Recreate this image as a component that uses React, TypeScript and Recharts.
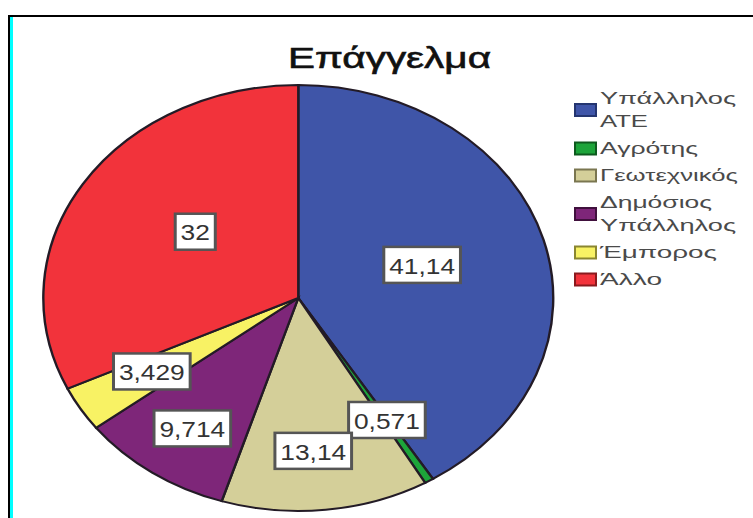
import { Cell, Legend, Pie, PieChart } from "recharts";

// Επάγγελμα (%)
const occupations = ["Υπάλληλος ΑΤΕ", "Αγρότης", "Γεωτεχνικός", "Δημόσιος Υπάλληλος", "Έμπορος", "Άλλο"];
const percents = [41.14, 0.571, 13.14, 9.714, 3.429, 32];
const valueLabels = ["41,14", "0,571", "13,14", "9,714", "3,429", "32"];
const sliceColors = ["#3F55A8", "#1DA43A", "#D4CF99", "#7E2679", "#F8F264", "#F2333B"];
const swatchEdges = ["#243570", "#0E5A1E", "#7A7650", "#40103D", "#8A8630", "#8A1A1E"];

const pieData = occupations.map((name, i) => ({ name, value: percents[i] }));

// the source picture is stretched sideways, so the pie is too
const STRETCH = 1.197;
const CHART_LEFT = 11;
const CX = 240;
const CY = 298;
const R = 213;

// where the value boxes sit (fraction of radius, small turn in degrees)
const labelRadius = [0.51, 0.67, 0.72, 0.74, 0.67, 0.51];
const labelTurn = [1.8, 0.4, -1.5, 0.8, -0.4, -5.2];

// legend words are drawn wide as in the source
const wordWidths: Record<string, number> = {
  "Υπάλληλος": 136,
  "ΑΤΕ": 48,
  "Αγρότης": 98,
  "Γεωτεχνικός": 138,
  "Δημόσιος": 112,
  "Έμπορος": 117,
  "Άλλο": 62,
};

const FONT = "'Liberation Sans', Arial, sans-serif";

const textWidth = (s: string, fs: number) =>
  s.split("").reduce((w, ch) => w + (ch === "," ? 0.278 : 0.556) * fs, 0);

const renderLabel = (props: any) => {
  const { cx, cy, midAngle, outerRadius, index } = props;
  const a = ((midAngle + labelTurn[index]) * Math.PI) / 180;
  const r = outerRadius * labelRadius[index];
  const x = cx + r * Math.cos(a);
  const y = cy - r * Math.sin(a);
  const text = valueLabels[index];
  const w = textWidth(text, 22) + 9;
  return (
    <g key={`lbl-${index}`}>
      <rect x={x - w / 2} y={y - 18} width={w} height={36} fill="#fff" stroke="#555" strokeWidth={2.5} />
      <text
        x={x}
        y={y + 1}
        textAnchor="middle"
        dominantBaseline="central"
        fontSize={22}
        fontFamily={FONT}
        fill="#333"
      >
        {text}
      </text>
    </g>
  );
};

const renderLegend = () => {
  let top = 2;
  return (
    <svg width={185} height={230}>
      {pieData.map((entry, i) => {
        const words = entry.name.split(" ");
        const itemTop = top;
        top += words.length * 23 + 4;
        const mid = itemTop + (words.length * 23) / 2 + 1;
        return (
          <g key={entry.name}>
            <rect
              x={5}
              y={mid - 6}
              width={21}
              height={12}
              fill={sliceColors[i]}
              stroke={swatchEdges[i]}
              strokeWidth={2}
            />
            {words.map((wd, k) => (
              <text
                key={k}
                x={30}
                y={itemTop + 12 + k * 23}
                dominantBaseline="central"
                fontSize={17}
                fontFamily={FONT}
                fill="#4a4a4a"
                textLength={wordWidths[wd]}
                lengthAdjust="spacingAndGlyphs"
              >
                {wd}
              </text>
            ))}
          </g>
        );
      })}
    </svg>
  );
};

export default function App() {
  return (
    <div
      style={{
        position: "absolute",
        left: 0,
        top: 0,
        width: 753,
        height: 518,
        background: "#fff",
        overflow: "hidden",
      }}
    >
      {/* frame */}
      <div
        style={{
          position: "absolute",
          left: 8,
          top: 15,
          width: 745,
          height: 503,
          borderTop: "2px solid #000",
          borderLeft: "2px solid #000",
        }}
      />
      <div style={{ position: "absolute", left: 10, top: 17, width: 3, height: 501, background: "#00FFFF" }} />

      <svg width={753} height={90} style={{ position: "absolute", left: 0, top: 0 }}>
        <text
          x={288}
          y={68}
          fontSize={29}
          fontFamily={FONT}
          fill="#111"
          stroke="#111"
          strokeWidth={0.6}
          textLength={203}
          lengthAdjust="spacingAndGlyphs"
        >
          Επάγγελμα
        </text>
      </svg>

      <div
        style={{
          position: "absolute",
          left: CHART_LEFT,
          top: 0,
          transform: `scaleX(${STRETCH})`,
          transformOrigin: "0 0",
        }}
      >
        <PieChart width={620} height={518} margin={{ top: 0, right: 0, bottom: 0, left: 0 }}>
          <Pie
            data={pieData}
            dataKey="value"
            nameKey="name"
            cx={CX}
            cy={CY}
            outerRadius={R}
            startAngle={90}
            endAngle={-270}
            stroke="#231b26"
            strokeWidth={2}
            label={renderLabel}
            labelLine={false}
            isAnimationActive={false}
          >
            {pieData.map((d, i) => (
              <Cell key={d.name} fill={sliceColors[i]} />
            ))}
          </Pie>
          <Legend
            layout="vertical"
            align="right"
            verticalAlign="top"
            content={renderLegend}
            wrapperStyle={{
              position: "absolute",
              left: (570 - CHART_LEFT) / STRETCH,
              top: 84,
              width: 185,
              transform: `scaleX(${1 / STRETCH})`,
              transformOrigin: "0 0",
            }}
          />
        </PieChart>
      </div>
    </div>
  );
}
